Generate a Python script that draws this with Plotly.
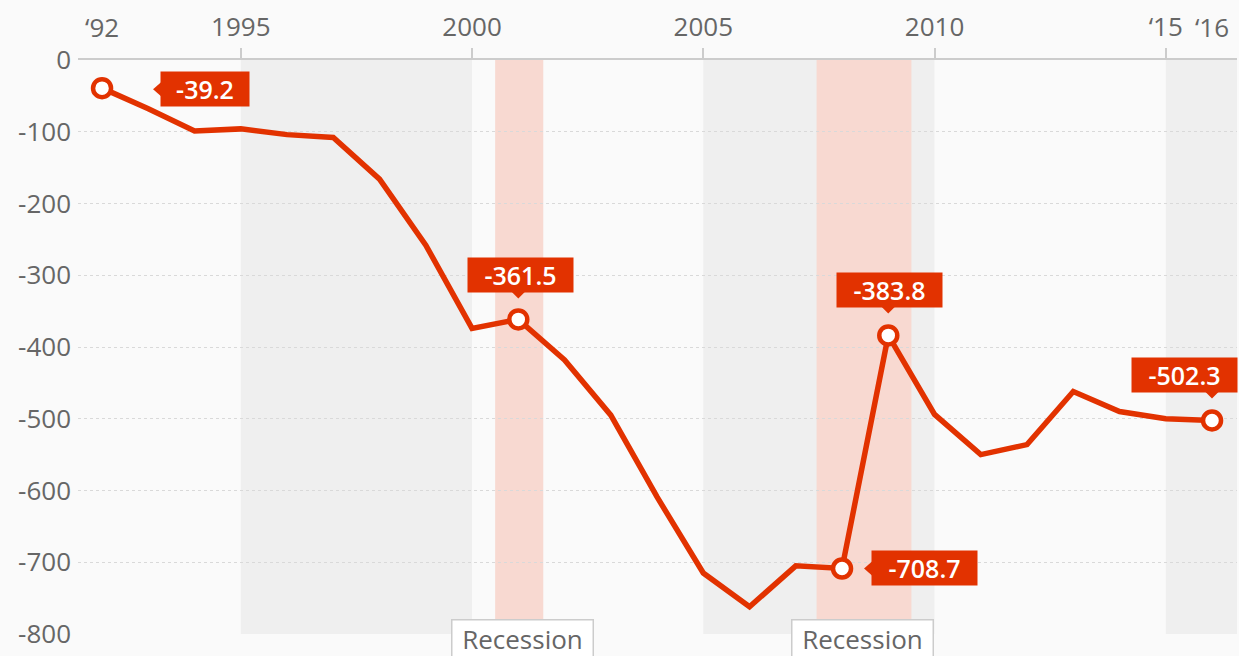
import plotly.graph_objects as go

years = list(range(1992, 2017))
values = [-39.2, -68, -99, -96, -104, -108, -166, -258, -374, -361.5, -418, -495,
          -609, -715, -762, -705, -708.7, -383.8, -494, -550, -536, -462, -490, -500, -502.3]

highlight_years = [1992, 2001, 2008, 2009, 2016]
highlight_values = [-39.2, -361.5, -708.7, -383.8, -502.3]

shade_bands = [(1995, 2000), (2005, 2010), (2015, 2016.6)]
recession_bands = [(2000.5, 2001.54), (2007.45, 2009.5)]
recession_label_x = [2001.1, 2008.45]

x_tickvals = [1995, 2000, 2005, 2010, 2015]
x_ticktext = ["1995", "2000", "2005", "2010", "\u201815"]
x2_tickvals = [1992, 2016]
x2_ticktext = ["\u201892", "\u201816"]
y_tickvals = [0, -100, -200, -300, -400, -500, -600, -700, -800]
y_ticktext = ["0", "-100", "-200", "-300", "-400", "-500", "-600", "-700", "-800"]

RED = "#e23200"
GREY_TXT = "#666666"
FONT = "Open Sans"
XR = [1991.48, 2016.54]

fig = go.Figure()
fig.add_trace(go.Scatter(x=years, y=values, mode="lines",
                         line=dict(color=RED, width=5.5), hoverinfo="skip", showlegend=False))
fig.add_trace(go.Scatter(x=highlight_years, y=highlight_values, mode="markers",
                         marker=dict(size=18, color="white", line=dict(color=RED, width=4.5)),
                         cliponaxis=False, showlegend=False))
# invisible trace to activate top-secondary axis
fig.add_trace(go.Scatter(x=[XR[0]], y=[0], xaxis="x2", mode="markers",
                         marker=dict(opacity=0), showlegend=False, hoverinfo="skip"))

shapes = []
for a, b in shade_bands:
    shapes.append(dict(type="rect", xref="x", yref="y", x0=a, x1=b, y0=-800, y1=0,
                       fillcolor="#efefef", line=dict(width=0), layer="below"))
for a, b in recession_bands:
    shapes.append(dict(type="rect", xref="x", yref="y", x0=a, x1=b, y0=-800, y1=0,
                       fillcolor="#f8d9d1", line=dict(width=0), layer="below"))

ann = []
# value labels: (x, y, text, mode, xshift, yshift, box width)
label_specs = [
    (1992, -39.2, "-39.2", "left", 58, -1, 88),
    (2001, -361.5, "-361.5", "up", 2, 44, 105),
    (2008, -708.7, "-708.7", "left", 29, 0, 105),
    (2009, -383.8, "-383.8", "up", 1, 45, 105),
    (2016, -502.3, "-502.3", "up", -28, 45, 105),
]
for x, y, t, mode, xs, ys, w in label_specs:
    common = dict(x=x, y=y, xref="x", yref="y", text=t, showarrow=False,
                  yanchor="middle", bgcolor=RED, borderpad=0, width=w, height=34,
                  font=dict(family=FONT, size=25, color="white", weight=600))
    if mode == "left":
        ann.append(dict(common, xanchor="left", xshift=xs, yshift=ys))
        path = f"M{xs + 1},{ys - 7} L{xs + 1},{ys + 7} L{xs - 7},{ys} Z"
    else:
        ann.append(dict(common, xanchor="center", xshift=xs, yshift=ys))
        base = ys - 16
        path = f"M-7,{base} L7,{base} L0,{base - 7} Z"
    shapes.append(dict(type="path", xref="x", yref="y", xsizemode="pixel", ysizemode="pixel",
                       xanchor=x, yanchor=y, path=path, fillcolor=RED, line=dict(width=0),
                       layer="above"))

for rx in recession_label_x:
    ann.append(dict(x=rx, y=-800, xref="x", yref="y", text="Recession", showarrow=False,
                    xanchor="center", yanchor="middle", yshift=-4, width=140, height=36,
                    bgcolor="white", bordercolor="#cccccc", borderwidth=1.5, borderpad=0,
                    font=dict(family=FONT, size=26, color=GREY_TXT)))

fig.update_layout(
    width=1239, height=656,
    margin=dict(l=78, r=2, t=60, b=22),
    paper_bgcolor="#fafafa", plot_bgcolor="#fafafa",
    shapes=shapes, annotations=ann, showlegend=False,
    font=dict(family=FONT, size=26, color=GREY_TXT),
    xaxis=dict(range=XR, side="top", tickmode="array", tickvals=x_tickvals, ticktext=x_ticktext,
               showgrid=False, zeroline=False, showline=True, linecolor="#cccccc", linewidth=2,
               ticks="outside", ticklen=10, tickwidth=1.5, tickcolor="#cccccc",
               ticklabelstandoff=2,
               tickfont=dict(family=FONT, size=26, color=GREY_TXT)),
    xaxis2=dict(range=XR, side="top", overlaying="x", tickmode="array", tickvals=x2_tickvals,
                ticktext=x2_ticktext, showgrid=False, zeroline=False, showline=False,
                ticks="outside", ticklen=10, tickcolor="rgba(0,0,0,0)",
                ticklabelstandoff=2,
                tickfont=dict(family=FONT, size=26, color=GREY_TXT)),
    yaxis=dict(range=[-800, 0], tickmode="array", tickvals=y_tickvals, ticktext=y_ticktext,
               showgrid=True, gridcolor="#d9d9d9", griddash="dot", gridwidth=1,
               zeroline=False, ticks="", ticklabelstandoff=6,
               tickfont=dict(family=FONT, size=26, color=GREY_TXT)),
)

fig.write_html("out.html")
